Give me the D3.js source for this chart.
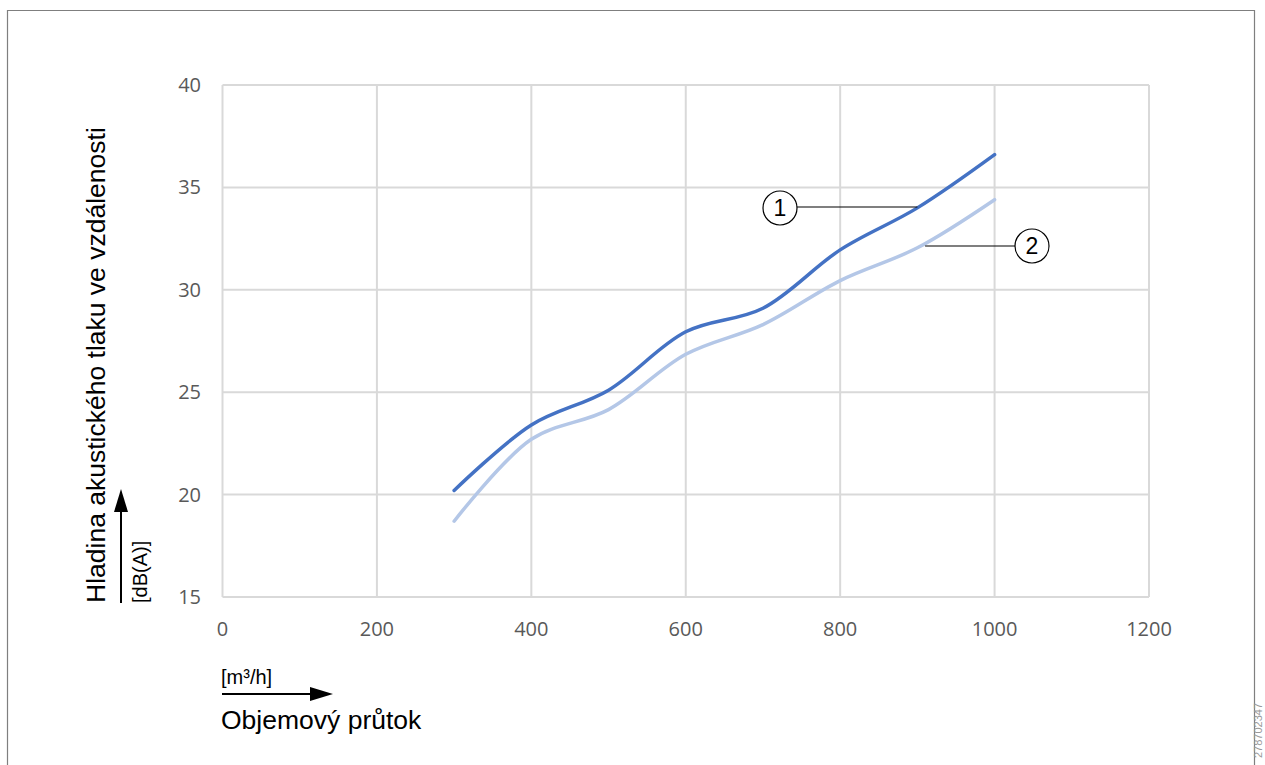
<!DOCTYPE html>
<html><head><meta charset="utf-8">
<script src="https://cdn.jsdelivr.net/npm/d3@7"></script>
<style>body{margin:0;background:#fff}svg{display:block}</style>
</head><body>
<script>
const xValues = [300, 400, 500, 600, 700, 800, 900, 1000];
const series1 = [20.2, 23.4, 25.1, 27.95, 29.1, 31.95, 34.0, 36.6];
const series2 = [18.7, 22.7, 24.15, 26.85, 28.3, 30.45, 32.05, 34.4];
const xTicks = [0, 200, 400, 600, 800, 1000, 1200];
const yTicks = [15, 20, 25, 30, 35, 40];
const yTitle = "Hladina akustického tlaku ve vzdálenosti";
const yUnit = "[dB(A)]";
const xTitle = "Objemový průtok";
const xUnit = "[m³/h]";
const watermark = "278702347";

const W = 1265, H = 765;
const svg = d3.select("body").append("svg").attr("width", W).attr("height", H);

const x = d3.scaleLinear().domain([0, 1200]).range([222.5, 1149]);
const y = d3.scaleLinear().domain([15, 40]).range([597, 85]);

// frame
svg.append("path").attr("d", "M7.5,765 V10.5 H1254.5 V765").attr("fill", "none").attr("stroke", "#7f7f7f").attr("stroke-width", 1.2);

// grid
const g = svg.append("g");
g.selectAll(".gx").data(xTicks).enter().append("line")
  .attr("x1", d => x(d)).attr("x2", d => x(d)).attr("y1", y(40)).attr("y2", y(15))
  .attr("stroke", "#d9d9d9").attr("stroke-width", 2);
g.selectAll(".gy").data(yTicks).enter().append("line")
  .attr("y1", d => y(d)).attr("y2", d => y(d)).attr("x1", x(0)).attr("x2", x(1200))
  .attr("stroke", "#d9d9d9").attr("stroke-width", 2);

// tick labels
const tf = "'Open Sans', 'Noto Sans', sans-serif";
g.selectAll(".tx").data(xTicks).enter().append("text")
  .attr("x", d => x(d)).attr("y", 636).attr("text-anchor", "middle")
  .attr("font-family", tf).attr("font-size", 20).attr("fill", "#595959").text(d => d);
g.selectAll(".ty").data(yTicks).enter().append("text")
  .attr("x", 201).attr("y", d => y(d) + 7).attr("text-anchor", "end")
  .attr("font-family", tf).attr("font-size", 20).attr("fill", "#595959").text(d => d);

// lines
const line = d3.line().x((d, i) => x(xValues[i])).y(d => y(d)).curve(d3.curveCatmullRom.alpha(0.5));
svg.append("path").datum(series2).attr("d", line).attr("fill", "none")
  .attr("stroke", "#b4c7e7").attr("stroke-width", 3.5).attr("stroke-linecap", "round");
svg.append("path").datum(series1).attr("d", line).attr("fill", "none")
  .attr("stroke", "#4472c4").attr("stroke-width", 3.5).attr("stroke-linecap", "round");

// callouts
const af = "'Liberation Sans', Arial, sans-serif";
svg.append("line").attr("x1", 797).attr("y1", 207).attr("x2", x(900)).attr("y2", 207)
  .attr("stroke", "#000").attr("stroke-width", 1.2);
svg.append("circle").attr("cx", 780).attr("cy", 208).attr("r", 17)
  .attr("fill", "#fff").attr("stroke", "#000").attr("stroke-width", 1.2);
svg.append("text").attr("x", 780).attr("y", 216).attr("text-anchor", "middle")
  .attr("font-family", af).attr("font-size", 23).text("1");
svg.append("line").attr("x1", x(910)).attr("y1", 246).attr("x2", 1015).attr("y2", 246)
  .attr("stroke", "#000").attr("stroke-width", 1.2);
svg.append("circle").attr("cx", 1032).attr("cy", 246).attr("r", 17)
  .attr("fill", "#fff").attr("stroke", "#000").attr("stroke-width", 1.2);
svg.append("text").attr("x", 1032).attr("y", 254).attr("text-anchor", "middle")
  .attr("font-family", af).attr("font-size", 23).text("2");

// y title
svg.append("text").attr("transform", "translate(105,603) rotate(-90)")
  .attr("font-family", af).attr("font-size", 26.5).attr("fill", "#000").text(yTitle);
svg.append("line").attr("x1", 121).attr("y1", 603).attr("x2", 121).attr("y2", 505)
  .attr("stroke", "#000").attr("stroke-width", 2);
svg.append("path").attr("d", "M121,489 L114,512 L128,512 Z").attr("fill", "#000");
svg.append("text").attr("transform", "translate(147,603) rotate(-90)")
  .attr("font-family", af).attr("font-size", 20).attr("fill", "#000").text(yUnit);

// x title
svg.append("text").attr("x", 221).attr("y", 684)
  .attr("font-family", af).attr("font-size", 20).attr("fill", "#000").text(xUnit);
svg.append("line").attr("x1", 222).attr("y1", 694).attr("x2", 312).attr("y2", 694)
  .attr("stroke", "#000").attr("stroke-width", 2);
svg.append("path").attr("d", "M333,694 L310,687 L310,701 Z").attr("fill", "#000");
svg.append("text").attr("x", 221).attr("y", 729)
  .attr("font-family", af).attr("font-size", 26.5).attr("fill", "#000").text(xTitle);

// watermark
svg.append("text").attr("transform", "translate(1262,758) rotate(-90)")
  .attr("font-family", af).attr("font-size", 11).attr("fill", "#999").text(watermark);
</script>
</body></html>
